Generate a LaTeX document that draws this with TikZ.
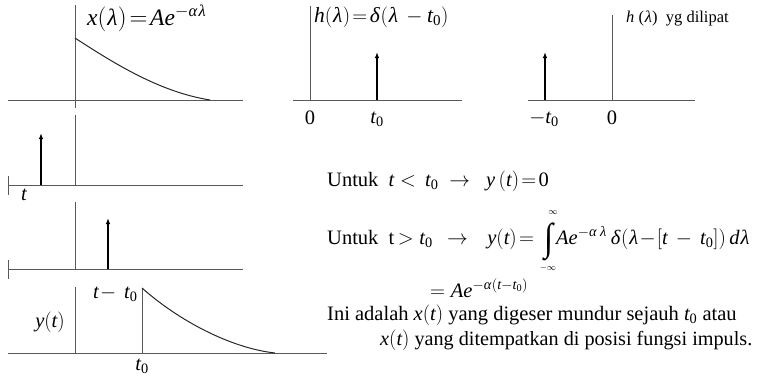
\documentclass[tikz,border=0pt]{standalone}
\usepackage{mathspec}
\usepackage{graphicx}
\setmainfont{Liberation Serif}
\setmathsfont(Digits,Latin,Greek){Liberation Serif}
\usetikzlibrary{arrows.meta}
\begin{document}
\begin{tikzpicture}[x=1pt,y=-1pt,
  axis/.style={line width=0.9pt, draw=black!65},
  curve/.style={line width=1pt, draw=black!85},
  impulse/.style={line width=1.4pt, -{Latex[length=6pt,width=4.5pt]}},
  lbl/.style={inner sep=0pt, font=\fontsize{20.5}{23}\selectfont},
  big/.style={inner sep=0pt, font=\fontsize{23.5}{25}\selectfont},
  small/.style={inner sep=0pt, font=\fontsize{16.5}{18}\selectfont},
  tiny/.style={inner sep=0pt, font=\fontsize{9}{10}\selectfont}]
\useasboundingbox (0,0) rectangle (758,375);
% panel 1
\coordinate (a1l) at (8,100); \coordinate (a1r) at (243,100);
\coordinate (a1t) at (75,5); \coordinate (a1b) at (75,108);
\draw[axis] (a1l) -- (a1r); \draw[axis] (a1t) -- (a1b);
\coordinate (c1s) at (75,38); \coordinate (c1e) at (210,100);
\draw[curve] (c1s) .. controls (115,64) and (160,92) .. (c1e);
\node[big, anchor=west] (xl) at (87,18) {$x(\lambda)\!=\!Ae^{-\alpha\lambda}$};
% panel 2
\coordinate (a2l) at (8,185); \coordinate (a2r) at (243,185);
\coordinate (k2t) at (8,176); \coordinate (k2b) at (8,195);
\coordinate (a2t) at (75,115); \coordinate (a2b) at (75,185);
\coordinate (i2b) at (41,185); \coordinate (i2t) at (41,133);
\draw[axis] (a2l) -- (a2r); \draw[axis] (k2t) -- (k2b); \draw[axis] (a2t) -- (a2b);
\draw[impulse] (i2b) -- (i2t);
\node[lbl] (tl) at (24,195) {$t$};
% panel 3
\coordinate (a3l) at (8,269); \coordinate (a3r) at (243,269);
\coordinate (k3t) at (8,260); \coordinate (k3b) at (8,279);
\coordinate (a3t) at (75,202); \coordinate (a3b) at (75,269);
\coordinate (i3b) at (108,269); \coordinate (i3t) at (108,218);
\draw[axis] (a3l) -- (a3r); \draw[axis] (k3t) -- (k3b); \draw[axis] (a3t) -- (a3b);
\draw[impulse] (i3b) -- (i3t);
\node[lbl, anchor=west] (ttl) at (93,294) {$t\!-\,t_0$};
% panel 4
\coordinate (a4l) at (8,353); \coordinate (a4r) at (327,353);
\coordinate (a4t) at (75,287); \coordinate (a4b) at (75,353);
\coordinate (v4t) at (142,288); \coordinate (v4b) at (142,353);
\draw[axis] (a4l) -- (a4r); \draw[axis] (a4t) -- (a4b); \draw[axis] (v4t) -- (v4b);
\coordinate (c4e) at (275,353);
\draw[curve] (v4t) .. controls (178,320) and (230,348) .. (c4e);
\node[lbl] (yl) at (50,322) {$y(t)$};
\node[lbl] (t0l) at (142,366) {$t_0$};
% top middle
\coordinate (hml) at (293,100); \coordinate (hmr) at (462,100);
\coordinate (hmt) at (310,6); \coordinate (hmb) at (310,100);
\coordinate (ihb) at (377,100); \coordinate (iht) at (377,52);
\draw[axis] (hml) -- (hmr); \draw[axis] (hmt) -- (hmb);
\draw[impulse] (ihb) -- (iht);
\node[big, anchor=west, font=\fontsize{21.5}{23}\selectfont] (hl) at (314,17) {$h(\lambda)\!=\!\delta(\lambda\,-t_0)$};
\node[lbl] (zm) at (310,118) {0};
\node[lbl] (tm) at (377,119) {$t_0$};
% top right
\coordinate (hrl) at (528,100); \coordinate (hrr) at (695,100);
\coordinate (hrt) at (612,15); \coordinate (hrb) at (612,100);
\coordinate (irb) at (545,100); \coordinate (irt) at (545,52);
\draw[axis] (hrl) -- (hrr); \draw[axis] (hrt) -- (hrb);
\draw[impulse] (irb) -- (irt);
\node[small, anchor=west] (hfl) at (626,18) {$h$ ($\lambda$)\ \ yg dilipat};
\node[lbl] (mtr) at (544,119) {$-t_0$};
\node[lbl] (zr) at (612,118) {0};
% text
\node[lbl, anchor=west] (u1) at (327,181) {Untuk\ \ $t<\,t_0\ \rightarrow\ \ y\,(t)\!=\!0$};
\node[lbl, anchor=base west] (u2) at (327,244) {Untuk\ \ t$\,>t_0\ \,\rightarrow\ \ \,y(t)\!=$};
\node[inner sep=0pt] (int) at (549,242) {\resizebox*{9pt}{38pt}{\fontsize{30}{32}\selectfont ∫}};
\node[lbl, anchor=base west] (u2b) at (556,244) {$Ae^{-\alpha\,\lambda}\,\delta(\lambda\!-\![t\,-\,t_0])\,d\lambda$};
\node[tiny] (sup) at (553,213) {$\infty$};
\node[tiny] (sub) at (548,268) {$-\infty$};
\node[lbl, anchor=west] (u3) at (430,288) {$=Ae^{-\alpha(t-t_0)}$};
\node[lbl, anchor=west] (u4) at (327,315) {Ini adalah $x(t)$ yang digeser mundur\ sejauh $t_0$ atau};
\node[lbl, anchor=west, font=\fontsize{20.2}{23}\selectfont] (u5) at (380,340) {$x(t)$ yang ditempatkan di posisi fungsi impuls.};
\end{tikzpicture}
\end{document}
